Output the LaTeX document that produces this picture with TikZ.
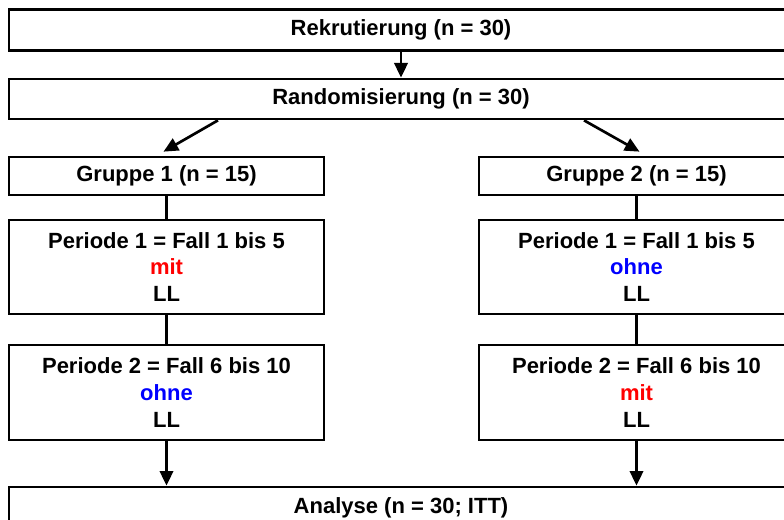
\documentclass[tikz,border=0pt]{standalone}
\usepackage{fontspec}
\setmainfont{Liberation Sans}
\usetikzlibrary{arrows.meta,calc}

\tikzset{every picture/.style={line width=2pt}}
\tikzset{
  flowbox/.style={draw, rectangle, inner sep=0pt, align=center,
    font=\fontsize{16.5}{19.9}\selectfont\bfseries},
  flowarrow/.style={-{Triangle[length=11pt,width=10pt]}}
}

\begin{document}
\begin{tikzpicture}[x=0.75pt,y=0.75pt,yscale=-1,xscale=1]
	%set diagram left start at 0, and has height of 520
	\clip (0,0) rectangle (784,520);
	\useasboundingbox (0,0) rectangle (784,520);

	%Shape: Rectangle [Rekrutierung]
	\node [flowbox, minimum width=784*0.75pt, minimum height=41*0.75pt] (rekr) at (401,30) {Rekrutierung (n = 30)};
	%Shape: Rectangle [Randomisierung]
	\node [flowbox, minimum width=784*0.75pt, minimum height=40*0.75pt] (rand) at (401,99) {Randomisierung (n = 30)};
	%Shape: Rectangle [Gruppe 1]
	\node [flowbox, minimum width=315*0.75pt, minimum height=38*0.75pt] (grpA) at (166.5,176) {Gruppe 1 (n = 15)};
	%Shape: Rectangle [Gruppe 2]
	\node [flowbox, minimum width=315*0.75pt, minimum height=38*0.75pt] (grpB) at (636.5,176) {Gruppe 2 (n = 15)};
	%Shape: Rectangle [Gruppe 1, Periode 1]
	\node [flowbox, minimum width=315*0.75pt, minimum height=94*0.75pt] (perA1) at (166.5,267) {Periode 1 = Fall 1 bis 5\\\textcolor{red}{mit}\\LL};
	%Shape: Rectangle [Gruppe 1, Periode 2]
	\node [flowbox, minimum width=315*0.75pt, minimum height=95*0.75pt] (perA2) at (166.5,392.5) {Periode 2 = Fall 6 bis 10\\\textcolor{blue}{ohne}\\LL};
	%Shape: Rectangle [Gruppe 2, Periode 1]
	\node [flowbox, minimum width=315*0.75pt, minimum height=94*0.75pt] (perB1) at (636.5,267) {Periode 1 = Fall 1 bis 5\\\textcolor{blue}{ohne}\\LL};
	%Shape: Rectangle [Gruppe 2, Periode 2]
	\node [flowbox, minimum width=315*0.75pt, minimum height=95*0.75pt] (perB2) at (636.5,392.5) {Periode 2 = Fall 6 bis 10\\\textcolor{red}{mit}\\LL};
	%Shape: Rectangle [Analyse]
	\node [flowbox, minimum width=784*0.75pt, minimum height=42*0.75pt] (ana) at (401,508) {Analyse (n = 30; ITT)};

	%Straight Lines
	\draw [flowarrow] (rekr.south) -- (rand.north);
	%Straight Lines
	\coordinate (splitA) at ($(rand.south)+(-183,0)$);
	\coordinate (splitB) at ($(rand.south)+(183,0)$);
	\draw [flowarrow] (splitA) -- ($(grpA.north)+(-3,-4)$);
	\draw [flowarrow] (splitB) -- ($(grpB.north)+(3,-4)$);
	%Straight Lines
	\draw (grpA.south) -- (perA1.north);
	\draw (perA1.south) -- (perA2.north);
	\draw (grpB.south) -- (perB1.north);
	\draw (perB1.south) -- (perB2.north);
	%Straight Lines
	\draw [flowarrow] (perA2.south) -- (perA2.south |- ana.north);
	\draw [flowarrow] (perB2.south) -- (perB2.south |- ana.north);

\end{tikzpicture}
\end{document}
